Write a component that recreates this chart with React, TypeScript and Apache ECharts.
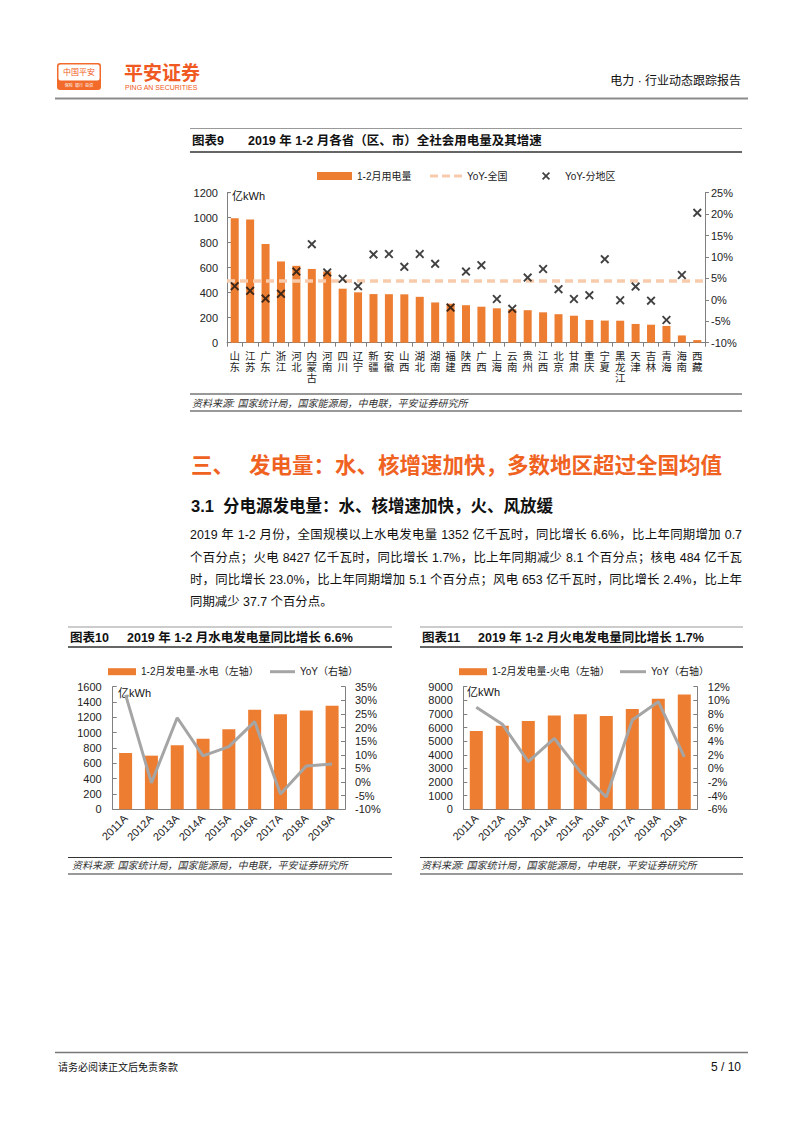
import React, { useEffect, useRef } from 'react';
import * as echarts from 'echarts';

// ---------- data ----------
const provinces = ['山东','江苏','广东','浙江','河北','内蒙古','河南','四川','辽宁','新疆','安徽','山西','湖北','湖南','福建','陕西','广西','上海','云南','贵州','江西','北京','甘肃','重庆','宁夏','黑龙江','天津','吉林','青海','海南','西藏'];
const provUsage = [995,985,790,650,615,590,570,432,403,389,388,387,367,322,312,300,288,275,267,260,243,228,216,182,177,176,150,144,134,58,21];
const provYoY = [3.2,2.1,0.3,1.4,6.6,13.0,6.4,4.9,3.2,10.6,10.7,7.7,10.7,8.4,-1.8,6.6,8.1,0.2,-2.1,5.2,7.2,2.5,0.2,1.1,9.5,-0.1,3.1,-0.2,-4.7,5.8,20.3];
const nationalYoY = 4.5;

const years = ['2011A','2012A','2013A','2014A','2015A','2016A','2017A','2018A','2019A'];
const hydroGen = [735,700,835,920,1045,1300,1240,1290,1352];
const hydroYoY = [32.0,-0.3,23.6,9.6,13.0,22.2,-4.4,5.9,6.6];
const thermalGen = [5750,6130,6480,6880,6980,6850,7360,8120,8427];
const thermalYoY = [9.0,6.5,1.0,4.4,-0.5,-4.2,7.1,9.8,1.7];

const paragraphLines = [
  '2019 年 1-2 月份，全国规模以上水电发电量 1352 亿千瓦时，同比增长 6.6%，比上年同期增加 0.7',
  '个百分点；火电 8427 亿千瓦时，同比增长 1.7%，比上年同期减少 8.1 个百分点；核电 484 亿千瓦',
  '时，同比增长 23.0%，比上年同期增加 5.1 个百分点；风电 653 亿千瓦时，同比增长 2.4%，比上年',
  '同期减少 37.7 个百分点。',
];

const SOURCE = '资料来源: 国家统计局，国家能源局，中电联，平安证券研究所';
const FONT = "'Liberation Sans', 'Noto Sans CJK SC', sans-serif";
const ORANGE = '#ED7D31';
const GRAY_LINE = '#A5A5A5';
const DASH = '#F8CBAD';
const AXIS = '#808080';

const T = (text: string, x: number, y: number, size: number, o: any = {}) => ({
  type: 'text', x, y, silent: true,
  style: {
    text,
    fill: o.color || '#111',
    font: `${o.italic ? 'italic ' : ''}${o.bold ? 'bold ' : ''}${size}px ${FONT}`,
    align: o.align || 'left',
    verticalAlign: 'middle',
  },
});
const L = (x1: number, y1: number, x2: number, y2: number, color: string, w: number) => ({
  type: 'line', silent: true,
  shape: { x1, y1, x2, y2 },
  style: { stroke: color, lineWidth: w },
});

const XMARK = 'path://M1.5,0L5,3.5L8.5,0L10,1.5L6.5,5L10,8.5L8.5,10L5,6.5L1.5,10L0,8.5L3.5,5L0,1.5Z';
const DASH_ICON = 'path://M0,0h8v3h-8zM12,0h8v3h-8zM24,0h8v3h-8z';

function buildOption() {
  const lbl = { fontFamily: FONT, color: '#222', fontSize: 11 };
  const legendText = { fontFamily: FONT, color: '#222', fontSize: 10 };
  const graphic: any[] = [
    // header
    { type: 'rect', silent: true, shape: { x: 57, y: 63, width: 44, height: 27, r: 3 }, style: { fill: '#F26B2B' } },
    { type: 'rect', silent: true, shape: { x: 58.5, y: 64.5, width: 41, height: 16, r: 2 }, style: { fill: '#fff' } },
    T('中国平安', 79, 72.5, 8, { color: '#F05A22', align: 'center' }),
    T('保险  银行  投资', 79, 85.5, 4, { color: '#fff', align: 'center' }),
    T('平安证券', 124, 73, 19, { color: '#F05A22', bold: true }),
    T('PING AN SECURITIES', 125, 87, 7, { color: '#F05A22' }),
    T('电力 · 行业动态跟踪报告', 741, 81, 12, { align: 'right' }),
    L(55, 98.5, 748, 98.5, '#8c8c8c', 2),

    // chart 9 titles
    L(190, 128.5, 742, 128.5, '#999', 1),
    T('图表9', 192, 141, 12.5, { bold: true }),
    T('2019 年 1-2 月各省（区、市）全社会用电量及其增速', 248, 141, 12.5, { bold: true }),
    L(190, 152, 742, 152, '#333', 1.5),
    T('亿kWh', 232, 196, 11),
    L(227, 192.7, 230, 192.7, AXIS, 1),
    L(190, 394, 742, 394, '#333', 1),
    T(SOURCE, 192, 403, 10, { italic: true, color: '#333' }),
    L(190, 411, 742, 411, '#999', 2),

    // section headings
    T('三、', 191, 466, 21.5, { bold: true, color: '#F0621F' }),
    T('发电量：水、核增速加快，多数地区超过全国均值', 249, 466, 21.5, { bold: true, color: '#F0621F' }),
    T('3.1', 191, 506, 16.5, { bold: true }),
    T('分电源发电量：水、核增速加快，火、风放缓', 223, 506, 16.5, { bold: true }),

    // chart 10 titles
    L(68, 627, 392, 627, '#999', 1),
    T('图表10', 70, 637.5, 12.5, { bold: true }),
    T('2019 年 1-2 月水电发电量同比增长 6.6%', 127, 637.5, 12.5, { bold: true }),
    L(68, 647, 392, 647, '#333', 1.5),
    T('亿kWh', 118, 693, 11),
    L(68, 857.5, 392, 857.5, '#333', 1),
    T(SOURCE, 72, 865.5, 10, { italic: true, color: '#333' }),
    L(68, 874, 392, 874, '#999', 2),

    // chart 11 titles
    L(420, 627, 743, 627, '#999', 1),
    T('图表11', 422, 637.5, 12.5, { bold: true }),
    T('2019 年 1-2 月火电发电量同比增长 1.7%', 478, 637.5, 12.5, { bold: true }),
    L(420, 647, 743, 647, '#333', 1.5),
    T('亿kWh', 467, 692, 11),
    L(420, 857.5, 743, 857.5, '#333', 1),
    T(SOURCE, 421, 865.5, 10, { italic: true, color: '#333' }),
    L(420, 874, 743, 874, '#999', 2),

    // footer
    L(55, 1052.5, 748, 1052.5, '#777', 1.5),
    T('请务必阅读正文后免责条款', 58, 1067, 10),
    T('5 / 10', 741, 1067, 12, { align: 'right' }),
  ];

  const yCommon = (grid: number, min: number, max: number, interval: number, pos: string, tickInside: boolean, margin: number, pct: boolean) => ({
    type: 'value', gridIndex: grid, min, max, interval, position: pos,
    axisLine: { show: true, lineStyle: { color: AXIS, width: 1 } },
    axisTick: { show: true, inside: tickInside, length: 4, lineStyle: { color: AXIS } },
    axisLabel: { ...lbl, margin, formatter: (v: number) => (pct ? `${v}%` : `${v}`) },
    splitLine: { show: false },
  });

  return {
    animation: false,
    backgroundColor: '#fff',
    textStyle: { fontFamily: FONT },
    grid: [
      { left: 227, top: 192.7, width: 478, height: 150 },
      { left: 112.7, top: 686.7, width: 232.3, height: 122.6 },
      { left: 463.3, top: 686.7, width: 234, height: 122.6 },
    ],
    xAxis: [
      {
        type: 'category', gridIndex: 0, data: provinces,
        axisLine: { lineStyle: { color: AXIS } },
        axisTick: { show: true, length: 4, lineStyle: { color: AXIS } },
        axisLabel: { ...lbl, fontSize: 10.5, lineHeight: 10.8, interval: 0, margin: 8, formatter: (v: string) => v.split('').join('\n') },
      },
      {
        type: 'category', gridIndex: 1, data: years,
        axisLine: { lineStyle: { color: AXIS } },
        axisTick: { show: false },
        axisLabel: { ...lbl, rotate: 45, interval: 0, margin: 7 },
      },
      {
        type: 'category', gridIndex: 2, data: years,
        axisLine: { lineStyle: { color: AXIS } },
        axisTick: { show: false },
        axisLabel: { ...lbl, rotate: 45, interval: 0, margin: 7 },
      },
    ],
    yAxis: [
      yCommon(0, 0, 1200, 200, 'left', true, 9, false),
      yCommon(0, -10, 25, 5, 'right', false, 6, true),
      yCommon(1, 0, 1600, 200, 'left', true, 11, false),
      yCommon(1, -10, 35, 5, 'right', true, 10, true),
      yCommon(2, 0, 9000, 1000, 'left', true, 10.5, false),
      yCommon(2, -6, 12, 2, 'right', true, 10.5, true),
    ],
    legend: [
      { left: 317, top: 171, padding: 0, itemWidth: 35, itemHeight: 8, selectedMode: false, textStyle: legendText, data: [{ name: '1-2月用电量', icon: 'rect' }] },
      { left: 430, top: 171, padding: 0, itemWidth: 32, itemHeight: 3.5, selectedMode: false, textStyle: legendText, data: [{ name: 'YoY-全国', icon: DASH_ICON }] },
      { left: 542, top: 171, padding: 0, itemWidth: 8, itemHeight: 8, selectedMode: false, textStyle: { ...legendText, padding: [0, 0, 0, 10] }, data: [{ name: 'YoY-分地区', icon: XMARK }] },
      { left: 108, top: 666.7, padding: 0, itemWidth: 28, itemHeight: 7, selectedMode: false, textStyle: legendText, data: [{ name: '1-2月发电量-水电（左轴）', icon: 'rect' }] },
      { left: 270, top: 666.7, padding: 0, itemWidth: 25, itemHeight: 3, selectedMode: false, textStyle: legendText, data: [{ name: 'YoY（右轴）', icon: 'rect' }] },
      { left: 459, top: 666.7, padding: 0, itemWidth: 28, itemHeight: 7, selectedMode: false, textStyle: legendText, data: [{ name: '1-2月发电量-火电（左轴）', icon: 'rect' }] },
      { left: 620, top: 666.7, padding: 0, itemWidth: 26, itemHeight: 3, selectedMode: false, textStyle: legendText, data: [{ name: 'YoY（右轴）', icon: 'rect' }] },
    ],
    series: [
      { name: '1-2月用电量', type: 'bar', xAxisIndex: 0, yAxisIndex: 0, data: provUsage, barWidth: 8, itemStyle: { color: ORANGE } },
      {
        name: 'YoY-全国', type: 'line', xAxisIndex: 0, yAxisIndex: 1, data: [], symbol: 'none',
        itemStyle: { color: DASH },
        lineStyle: { color: DASH, width: 3.5, type: [8, 5] },
        markLine: {
          silent: true, symbol: 'none', label: { show: false },
          lineStyle: { color: DASH, width: 3.5, type: [8, 5] },
          data: [{ yAxis: nationalYoY }],
        },
      },
      { name: 'YoY-分地区', type: 'scatter', xAxisIndex: 0, yAxisIndex: 1, data: provYoY, symbol: XMARK, symbolSize: 9, itemStyle: { color: '#111' }, z: 5 },
      { name: '1-2月发电量-水电（左轴）', type: 'bar', xAxisIndex: 1, yAxisIndex: 2, data: hydroGen, barWidth: 13, itemStyle: { color: ORANGE } },
      { name: 'YoY（右轴）', type: 'line', xAxisIndex: 1, yAxisIndex: 3, data: hydroYoY, symbol: 'none', itemStyle: { color: GRAY_LINE }, lineStyle: { color: GRAY_LINE, width: 3 } },
      { name: '1-2月发电量-火电（左轴）', type: 'bar', xAxisIndex: 2, yAxisIndex: 4, data: thermalGen, barWidth: 13, itemStyle: { color: ORANGE } },
      { name: 'YoY（右轴）', type: 'line', xAxisIndex: 2, yAxisIndex: 5, data: thermalYoY, symbol: 'none', itemStyle: { color: GRAY_LINE }, lineStyle: { color: GRAY_LINE, width: 3 } },
    ],
    graphic,
  };
}

export default function App() {
  const ref = useRef<HTMLDivElement>(null);
  useEffect(() => {
    if (!ref.current) return;
    const chart = echarts.init(ref.current, undefined, { renderer: 'svg' });
    chart.setOption(buildOption() as any);
    return () => chart.dispose();
  }, []);
  const lineCenters = [535, 557.5, 580, 602];
  return (
    <div style={{ position: 'absolute', left: 0, top: 0, width: 802, height: 1133, overflow: 'hidden', background: '#fff' }}>
      <div ref={ref} style={{ position: 'absolute', left: 0, top: 0, width: 802, height: 1133 }} />
      {paragraphLines.map((t, i) => (
        <div
          key={i}
          style={{
            position: 'absolute', left: 190, top: lineCenters[i] - 11, width: 552, height: 22,
            lineHeight: '22px', fontSize: 12.4, fontFamily: FONT, color: '#111',
            textAlign: 'justify', textAlignLast: i < paragraphLines.length - 1 ? 'justify' : 'left',
            overflow: 'hidden',
          } as any}
        >
          {t}
        </div>
      ))}
    </div>
  );
}
